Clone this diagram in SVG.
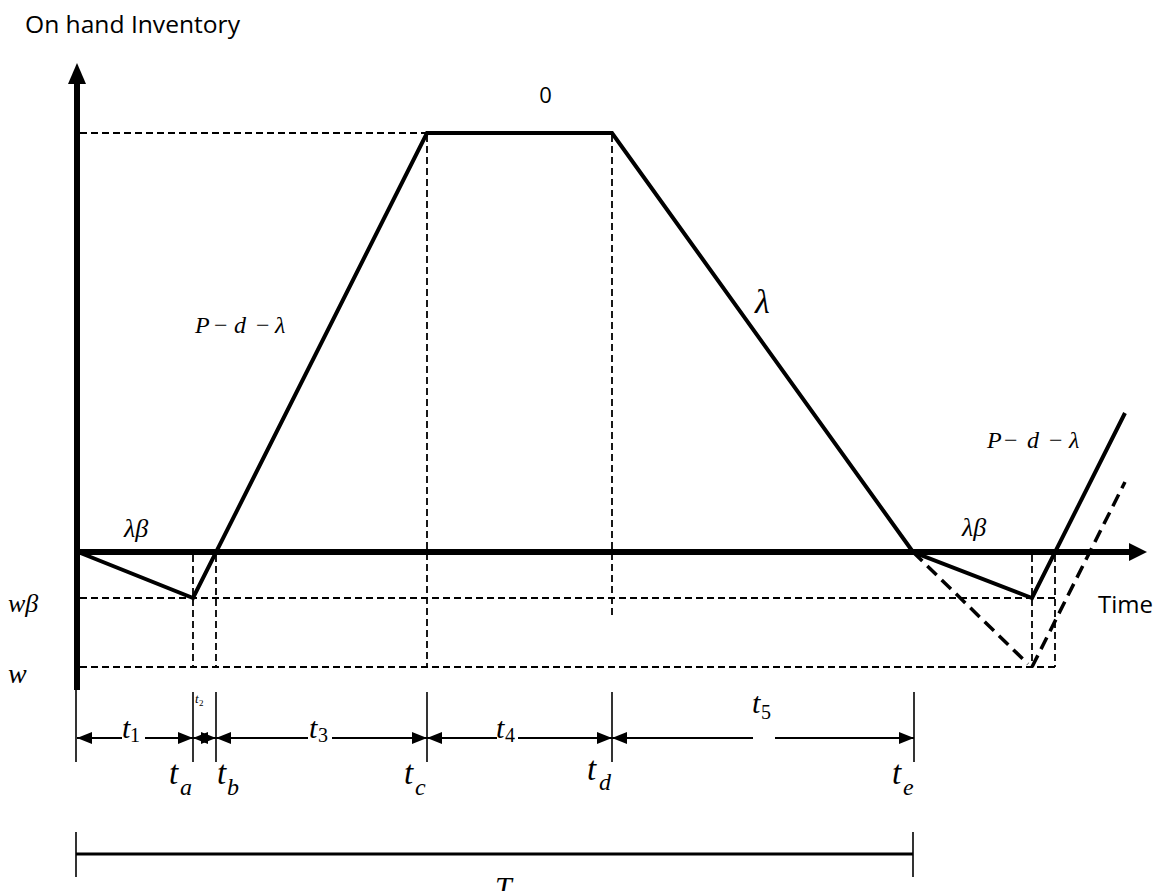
<svg xmlns="http://www.w3.org/2000/svg" width="1157" height="891" viewBox="0 0 1157 891">
<style>
.sans{font-family:"Open Sans","Liberation Sans",sans-serif;fill:#000}
.math{font-family:"Liberation Serif","Times New Roman",serif;font-style:italic;fill:#000}
.up{font-style:normal}
.thin{stroke:#000;stroke-width:1.8;stroke-dasharray:7 4;fill:none}
.bolddash{stroke:#000;stroke-width:3.5;stroke-dasharray:13 7;fill:none}
.solid{stroke:#000;stroke-width:4;fill:none;stroke-linejoin:miter}
.axis{stroke:#000;stroke-width:6;fill:none}
.tick{stroke:#000;stroke-width:1.6;fill:none}
.dim{stroke:#000;stroke-width:2;fill:none;marker-end:url(#ah)}
</style>
<defs>
<marker id="ah" markerUnits="userSpaceOnUse" markerWidth="15" markerHeight="12" refX="15" refY="6" orient="auto">
<path d="M0,0 L15,6 L0,12 z" fill="#000"/>
</marker>
</defs>
<rect width="1157" height="891" fill="#fff"/>

<g id="guides">
<line class="thin" x1="80" y1="133" x2="427" y2="133"/>
<line class="thin" x1="80" y1="598" x2="1055" y2="598"/>
<line class="thin" x1="80" y1="667" x2="1055" y2="667"/>
<line class="thin" x1="193" y1="555" x2="193" y2="667"/>
<line class="thin" x1="216" y1="555" x2="216" y2="667"/>
<line class="thin" x1="427" y1="135" x2="427" y2="667"/>
<line class="thin" x1="612" y1="135" x2="612" y2="616"/>
<line class="thin" x1="1032" y1="555" x2="1032" y2="667"/>
<line class="thin" x1="1055" y1="555" x2="1055" y2="667"/>
</g>

<g id="axes">
<line class="axis" x1="77" y1="80" x2="77" y2="690"/>
<polygon points="77,63 86,84 68,84" fill="#000"/>
<line class="axis" x1="77" y1="552" x2="1132" y2="552"/>
<polygon points="1147,552 1129,543 1129,561" fill="#000"/>
</g>

<g id="inventory-curve">
<polyline class="solid" points="78,552 193,598 427,133 612,133 913,552 1032,598 1125,413"/>
<line class="bolddash" x1="913" y1="552" x2="1028" y2="664"/>
<line class="bolddash" x1="1032" y1="667" x2="1125" y2="482"/>
</g>

<g id="labels">
<text class="sans" x="25" y="33" font-size="24" textLength="215" lengthAdjust="spacingAndGlyphs">On hand Inventory</text>
<text class="sans" x="545.5" y="103" font-size="22" text-anchor="middle">0</text>
<text class="sans" x="1098" y="613" font-size="24" textLength="55" lengthAdjust="spacingAndGlyphs">Time</text>
<text class="math" y="333" font-size="24"><tspan x="195">P</tspan><tspan class="up" x="214">−</tspan><tspan x="234">d</tspan><tspan class="up" x="256">−</tspan><tspan x="275">λ</tspan></text>
<text class="math" y="448" font-size="24"><tspan x="987">P</tspan><tspan class="up" x="1004">−</tspan><tspan x="1027">d</tspan><tspan class="up" x="1049">−</tspan><tspan x="1069">λ</tspan></text>
<text class="math" x="755" y="313" font-size="34">λ</text>
<text class="math" x="124" y="537" font-size="26">λβ</text>
<text class="math" x="962" y="536" font-size="26">λβ</text>
<text class="math" x="8" y="612" font-size="26">wβ</text>
<text class="math" x="8" y="683" font-size="28">w</text>
</g>

<g id="time-intervals">
<line class="tick" x1="76" y1="690" x2="76" y2="762"/>
<line class="tick" x1="193" y1="692" x2="193" y2="762"/>
<line class="tick" x1="216" y1="692" x2="216" y2="762"/>
<line class="tick" x1="427" y1="692" x2="427" y2="762"/>
<line class="tick" x1="612" y1="692" x2="612" y2="762"/>
<line class="tick" x1="914" y1="692" x2="914" y2="762"/>

<line class="dim" x1="122" y1="738" x2="77" y2="738"/>
<line class="dim" x1="145" y1="738" x2="193" y2="738"/>
<line class="dim" x1="205" y1="738" x2="193" y2="738"/>
<line class="dim" x1="204" y1="738" x2="216" y2="738"/>
<line class="dim" x1="308" y1="738" x2="216" y2="738"/>
<line class="dim" x1="332" y1="738" x2="427" y2="738"/>
<line class="dim" x1="497" y1="738" x2="427" y2="738"/>
<line class="dim" x1="518" y1="738" x2="612" y2="738"/>
<line class="dim" x1="753" y1="738" x2="612" y2="738"/>
<line class="dim" x1="775" y1="738" x2="914" y2="738"/>

<text class="math" x="122" y="738" font-size="30">t</text><text class="math up" x="130" y="742" font-size="20">1</text>
<text class="math" x="195" y="703" font-size="13">t</text><text class="math up" x="199" y="706" font-size="9">2</text>
<text class="math" x="309" y="738" font-size="30">t</text><text class="math up" x="318" y="742" font-size="20">3</text>
<text class="math" x="496" y="738" font-size="30">t</text><text class="math up" x="505" y="742" font-size="20">4</text>
<text class="math" x="752" y="713" font-size="30">t</text><text class="math up" x="761" y="719" font-size="20">5</text>

<text class="math" x="169" y="784" font-size="33">t</text><text class="math" x="180" y="795" font-size="24">a</text>
<text class="math" x="217" y="784" font-size="33">t</text><text class="math" x="227" y="795" font-size="24">b</text>
<text class="math" x="404" y="784" font-size="33">t</text><text class="math" x="415" y="795" font-size="24">c</text>
<text class="math" x="587" y="780" font-size="33">t</text><text class="math" x="599" y="790" font-size="24">d</text>
<text class="math" x="892" y="784" font-size="33">t</text><text class="math" x="903" y="795" font-size="24">e</text>
</g>

<g id="cycle-length">
<line stroke="#000" stroke-width="3" x1="76" y1="854" x2="913" y2="854"/>
<line class="tick" stroke-width="2" x1="76" y1="832" x2="76" y2="877"/>
<line class="tick" stroke-width="2" x1="913" y1="832" x2="913" y2="877"/>
<text class="math" x="495" y="897" font-size="30">T</text>
</g>
</svg>
